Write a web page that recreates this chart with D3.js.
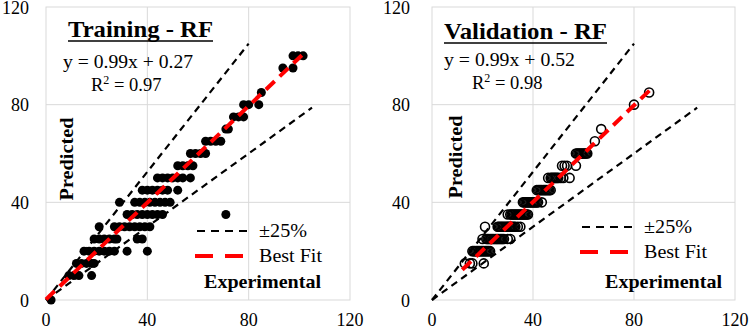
<!DOCTYPE html>
<html>
<head>
<meta charset="utf-8">
<script src="https://cdn.jsdelivr.net/npm/d3@7"></script>
<style>
  html, body { margin: 0; padding: 0; background: #fff; }
</style>
</head>
<body>
<svg id="chart" width="750" height="334"></svg>
<script>
const FONT = '"Liberation Serif", "Times New Roman", serif';

// Training set (filled markers): experimental vs predicted
const trainExp = [
  2,
  9, 11, 13, 18,
  12, 14, 16, 18, 19,
  15, 17, 19, 21, 23, 25, 27, 32, 40,
  19, 21, 23, 25, 27, 28, 36, 38,
  21, 27, 29, 31, 33, 35, 37, 39, 41,
  32, 34, 36, 38, 40, 42, 44, 46, 71,
  29, 35, 37, 39, 41, 43, 45, 47, 49,
  38, 40, 42, 44, 46, 48, 52,
  44, 46, 48, 50, 52, 54, 57,
  52, 54, 56, 58,
  57, 59, 61, 63,
  63, 65, 67, 69,
  71, 72,
  74, 76, 78,
  78, 80, 84,
  85,
  93.5, 97.5,
  97.5, 99.5, 101.5
];
const trainPred = [
  0,
  10, 10, 10, 10,
  15, 15, 15, 15, 15,
  20, 20, 20, 20, 20, 20, 20, 20, 20,
  25, 25, 25, 25, 25, 25, 25, 25,
  30, 30, 30, 30, 30, 30, 30, 30, 30,
  35, 35, 35, 35, 35, 35, 35, 35, 35,
  40, 40, 40, 40, 40, 40, 40, 40, 40,
  45, 45, 45, 45, 45, 45, 45,
  50, 50, 50, 50, 50, 50, 50,
  55, 55, 55, 55,
  60, 60, 60, 60,
  65, 65, 65, 65,
  70, 70,
  75, 75, 75,
  80, 80, 80,
  85,
  95, 95,
  100, 100, 100
];

// Validation set (open markers), one list per predicted level
const val15 = [13, 15, 16, 20.5];
const val20 = [16, 16.5, 17, 17.5, 18, 18.5, 19, 19.5, 20, 20.5, 21, 21.5, 22, 22.5, 23];
const val25 = [20, 21.5, 22, 22.5, 23, 23.5, 24, 24.5, 25, 25.5, 26, 26.5, 27, 27.5, 28, 28.5, 30, 31];
const val30 = [21, 26, 26.5, 27, 27.5, 28, 28.5, 29, 29.5, 30, 30.5, 31, 31.5, 32, 32.5, 33, 34, 35];
const val35 = [30, 31, 31.5, 32, 32.5, 33, 33.5, 34, 34.5, 35, 35.5, 36, 36.5, 37, 37.5, 38];
const val40 = [36, 36.5, 37, 37.5, 38, 38.5, 39, 39.5, 40, 40.5, 41, 41.5, 42, 43.5];
const val45 = [41.5, 42, 42.5, 43, 43.5, 44, 44.5, 45, 45.5, 46, 46.5, 47];
const val50 = [46, 47, 47.5, 48, 48.5, 49, 49.5, 50, 51, 52, 54.5];
const val55 = [51.5, 52.5, 53.5, 57];
const val60 = [57, 57.5, 58, 58.5, 59, 59.5, 60, 60.5, 61, 61.5];
const valLevels = [15, 20, 25, 30, 35, 40, 45, 50, 55, 60];
const valRows = [val15, val20, val25, val30, val35, val40, val45, val50, val55, val60];
// the few high points
const valHighExp = [64.5, 67, 80, 86];
const valHighPred = [65, 70, 80, 85];

// +/-25% guide lines (end points, data units)
const upperBand = [[0, 0], [80, 105]];
const lowerBand = [[0, 0], [105, 78.75]];
const trainFitX = [0, 101];
const valFitX = [12, 87];

const axisTicks = [0, 40, 80, 120];

const valExp = [], valPred = [];
valRows.forEach((row, i) => row.forEach(v => { valExp.push(v); valPred.push(valLevels[i]); }));
valHighExp.forEach((v, i) => { valExp.push(v); valPred.push(valHighPred[i]); });

const svg = d3.select('#chart').style('font-family', FONT);

function drawPanel(opts) {
  const x = d3.scaleLinear().domain([0, 120]).range([opts.left, opts.right]);
  const y = d3.scaleLinear().domain([0, 120]).range([300, 7]);
  const g = svg.append('g').attr('font-family', FONT);

  // plot area + grid
  g.append('rect')
    .attr('x', opts.left).attr('y', y(120))
    .attr('width', opts.right - opts.left).attr('height', y(0) - y(120))
    .attr('fill', '#fff').attr('stroke', '#d9d9d9').attr('stroke-width', 1);

  g.selectAll('.vgrid')
    .data([40, 80])
    .join('line')
    .attr('x1', d => x(d)).attr('x2', d => x(d))
    .attr('y1', y(0)).attr('y2', y(120))
    .attr('stroke', '#d9d9d9');

  g.selectAll('.hgrid')
    .data([40, 80])
    .join('line')
    .attr('y1', d => y(d)).attr('y2', d => y(d))
    .attr('x1', x(0)).attr('x2', x(120))
    .attr('stroke', '#d9d9d9');

  // tick labels
  g.selectAll('.xt')
    .data(axisTicks)
    .join('text')
    .attr('x', d => x(d))
    .attr('y', 326)
    .attr('text-anchor', 'middle')
    .attr('font-size', 18)
    .text(d => d);

  g.selectAll('.yt')
    .data(axisTicks)
    .join('text')
    .attr('x', opts.left - opts.tickGap)
    .attr('y', d => y(d) + 6.5)
    .attr('text-anchor', 'end')
    .attr('font-size', 18)
    .text(d => d);

  // +/-25% lines
  const line = d3.line().x(d => x(d[0])).y(d => y(d[1]));
  [upperBand, lowerBand].forEach(b => {
    g.append('path')
      .attr('d', line(b))
      .attr('fill', 'none')
      .attr('stroke', '#000')
      .attr('stroke-width', 2.2)
      .attr('stroke-dasharray', '7,5');
  });

  // points
  g.selectAll('.pt')
    .data(opts.xs.map((v, i) => [v, opts.ys[i]]))
    .join('circle')
    .attr('cx', d => x(d[0]))
    .attr('cy', d => y(d[1]))
    .attr('r', 4.5)
    .attr('fill', opts.filled ? '#000' : 'none')
    .attr('stroke', '#000')
    .attr('stroke-width', opts.filled ? 0 : 1.6);

  // best fit
  const fit = opts.fitX.map(v => [v, opts.slope * v + opts.icpt]);
  g.append('path')
    .attr('d', line(fit))
    .attr('fill', 'none')
    .attr('stroke', '#ff0000')
    .attr('stroke-width', 4)
    .attr('stroke-dasharray', '12,7');

  // title with underline
  g.append('text')
    .attr('x', opts.titleX).attr('y', opts.titleY)
    .attr('font-size', 23)
    .attr('font-weight', 'bold')
    .attr('textLength', opts.titleW)
    .attr('lengthAdjust', 'spacingAndGlyphs')
    .text(opts.title);
  g.append('line')
    .attr('x1', opts.titleX).attr('x2', opts.titleX + opts.titleW)
    .attr('y1', opts.titleY + 4).attr('y2', opts.titleY + 4)
    .attr('stroke', '#000').attr('stroke-width', 1.6);

  // equation
  g.append('text')
    .attr('x', opts.eqX).attr('y', opts.eqY)
    .attr('font-size', 18)
    .attr('textLength', opts.eqW)
    .attr('lengthAdjust', 'spacingAndGlyphs')
    .text(opts.eq);
  const r2 = g.append('text')
    .attr('x', opts.r2X).attr('y', opts.eqY + 23)
    .attr('font-size', 18.5);
  r2.append('tspan').text('R');
  r2.append('tspan').attr('font-size', 12).attr('dy', -7).text('2');
  r2.append('tspan').attr('dy', 7).text(' = ' + opts.r2);

  // axis titles inside plot
  g.append('text')
    .attr('transform', `translate(${opts.predX},${opts.predY}) rotate(-90)`)
    .attr('text-anchor', 'middle')
    .attr('font-size', 19)
    .attr('font-weight', 'bold')
    .attr('textLength', 83)
    .attr('lengthAdjust', 'spacingAndGlyphs')
    .text('Predicted');

  g.append('text')
    .attr('x', opts.expX).attr('y', 288)
    .attr('font-size', 19)
    .attr('font-weight', 'bold')
    .attr('textLength', 117)
    .attr('lengthAdjust', 'spacingAndGlyphs')
    .text('Experimental');

  // legend
  g.append('line')
    .attr('x1', opts.legX).attr('x2', opts.legX + 54)
    .attr('y1', opts.legY).attr('y2', opts.legY)
    .attr('stroke', '#000').attr('stroke-width', 2.2)
    .attr('stroke-dasharray', '8,6');
  g.append('text')
    .attr('x', opts.legX + 62).attr('y', opts.legY + 6)
    .attr('font-size', 19.5)
    .attr('textLength', 48)
    .attr('lengthAdjust', 'spacingAndGlyphs')
    .text('±25%');
  g.append('line')
    .attr('x1', opts.legX - 2).attr('x2', opts.legX + 54)
    .attr('y1', opts.legY + 25).attr('y2', opts.legY + 25)
    .attr('stroke', '#ff0000').attr('stroke-width', 4)
    .attr('stroke-dasharray', '18,12');
  g.append('text')
    .attr('x', opts.legX + 62).attr('y', opts.legY + 31)
    .attr('font-size', 19.5)
    .attr('textLength', 63)
    .attr('lengthAdjust', 'spacingAndGlyphs')
    .text('Best Fit');
}

drawPanel({
  left: 46, right: 350, tickGap: 17,
  xs: trainExp, ys: trainPred, filled: true,
  fitX: trainFitX, slope: 0.99, icpt: 0.27,
  title: 'Training - RF', titleX: 68, titleY: 37, titleW: 145,
  eq: 'y = 0.99x + 0.27', eqX: 63, eqY: 68, eqW: 130, r2X: 91, r2: '0.97',
  predX: 73, predY: 159, expX: 204,
  legX: 197, legY: 231
});

drawPanel({
  left: 432, right: 735, tickGap: 22,
  xs: valExp, ys: valPred, filled: false,
  fitX: valFitX, slope: 0.99, icpt: 0.52,
  title: 'Validation - RF', titleX: 444, titleY: 39, titleW: 163,
  eq: 'y = 0.99x + 0.52', eqX: 444, eqY: 66, eqW: 131, r2X: 472, r2: '0.98',
  predX: 462, predY: 157, expX: 605,
  legX: 582, legY: 227
});
</script>
</body>
</html>
